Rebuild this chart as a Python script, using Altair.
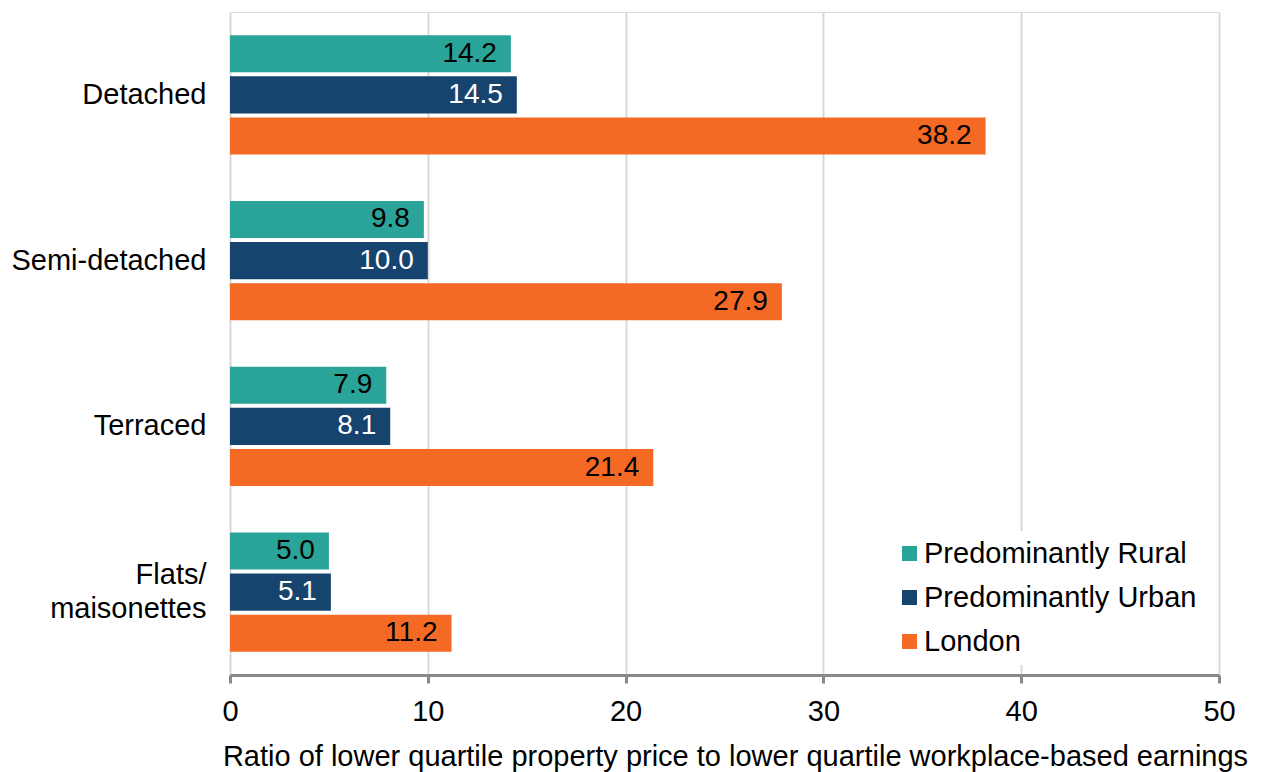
import altair as alt
import pandas as pd

categories = ["Detached", "Semi-detached", "Terraced", "Flats/|maisonettes"]
series = ["Predominantly Rural", "Predominantly Urban", "London"]
rural = [14.2, 9.8, 7.9, 5.0]
urban = [14.5, 10.0, 8.1, 5.1]
london = [38.2, 27.9, 21.4, 11.2]
colors = ["#2AA398", "#17446E", "#F46A25"]
text_colors = ["black", "white", "black"]

rows = []
for s, vals, tc in zip(series, [rural, urban, london], text_colors):
    for c, v in zip(categories, vals):
        rows.append({"type": c, "area": s, "value": v, "tcolor": tc})
df = pd.DataFrame(rows)

FONT = "Liberation Sans"
FS = 29

y_enc = alt.Y(
    "type:N", sort=categories, title=None,
    scale=alt.Scale(paddingInner=0.28, paddingOuter=0.14),
    axis=alt.Axis(
        labelExpr="split(datum.label, '|')", labelFontSize=FS, labelColor="black",
        labelFont=FONT, labelPadding=24, ticks=False, domain=False,
        labelLineHeight=34, labelAlign="right", labelLimit=400,
        labelOffset={"condition": {"test": "datum.value == 'Flats/|maisonettes'", "value": -17}, "value": 0},
    ),
)
yoff = alt.YOffset("area:N", sort=series, scale=alt.Scale(paddingInner=0.1))
x_enc = alt.X(
    "value:Q",
    scale=alt.Scale(domain=[0, 50], nice=False),
    title="Ratio of lower quartile property  price to lower quartile workplace-based earnings",
    axis=alt.Axis(
        values=[0, 10, 20, 30, 40, 50], format="d", grid=True, gridColor="#D9D9D9",
        gridWidth=2, domainColor="#898989", domainWidth=3, tickColor="#898989",
        tickWidth=3, tickSize=8, labelFontSize=FS, labelColor="black", labelFont=FONT,
        labelPadding=14, labelFlush=False, titleFontSize=FS, titleFont=FONT,
        titleColor="black", titleFontWeight="normal", titlePadding=16,
        titleLimit=1300, titleX=505,
    ),
)

bars = alt.Chart(df).mark_bar().encode(
    x=x_enc,
    y=y_enc,
    yOffset=yoff,
    color=alt.Color(
        "area:N", sort=series, scale=alt.Scale(domain=series, range=colors),
        legend=alt.Legend(
            title=None, orient="none", legendX=657, legendY=519,
            labelFontSize=FS, labelFont=FONT, labelColor="black", labelLimit=400,
            symbolType="square", symbolSize=225, symbolStrokeWidth=0,
            labelOffset=0, rowPadding=14, fillColor="white", padding=8,
        ),
    ),
)

labels = alt.Chart(df).mark_text(
    align="right", baseline="middle", dx=-14, fontSize=28, font=FONT
).encode(
    x="value:Q",
    y=alt.Y("type:N", sort=categories),
    yOffset=alt.YOffset("area:N", sort=series),
    text=alt.Text("value:Q", format=".1f"),
    color=alt.Color("tcolor:N", scale=None),
)

chart = (
    alt.layer(bars, labels)
    .properties(
        width=989, height=663,
        autosize=alt.AutoSizeParams(type="none"),
        padding={"left": 230, "top": 12, "right": 43, "bottom": 97},
    )
    .configure_view(stroke=None)
    .configure(background="white")
)

chart.save("out.html", embed_options={"renderer": "svg", "actions": False})
